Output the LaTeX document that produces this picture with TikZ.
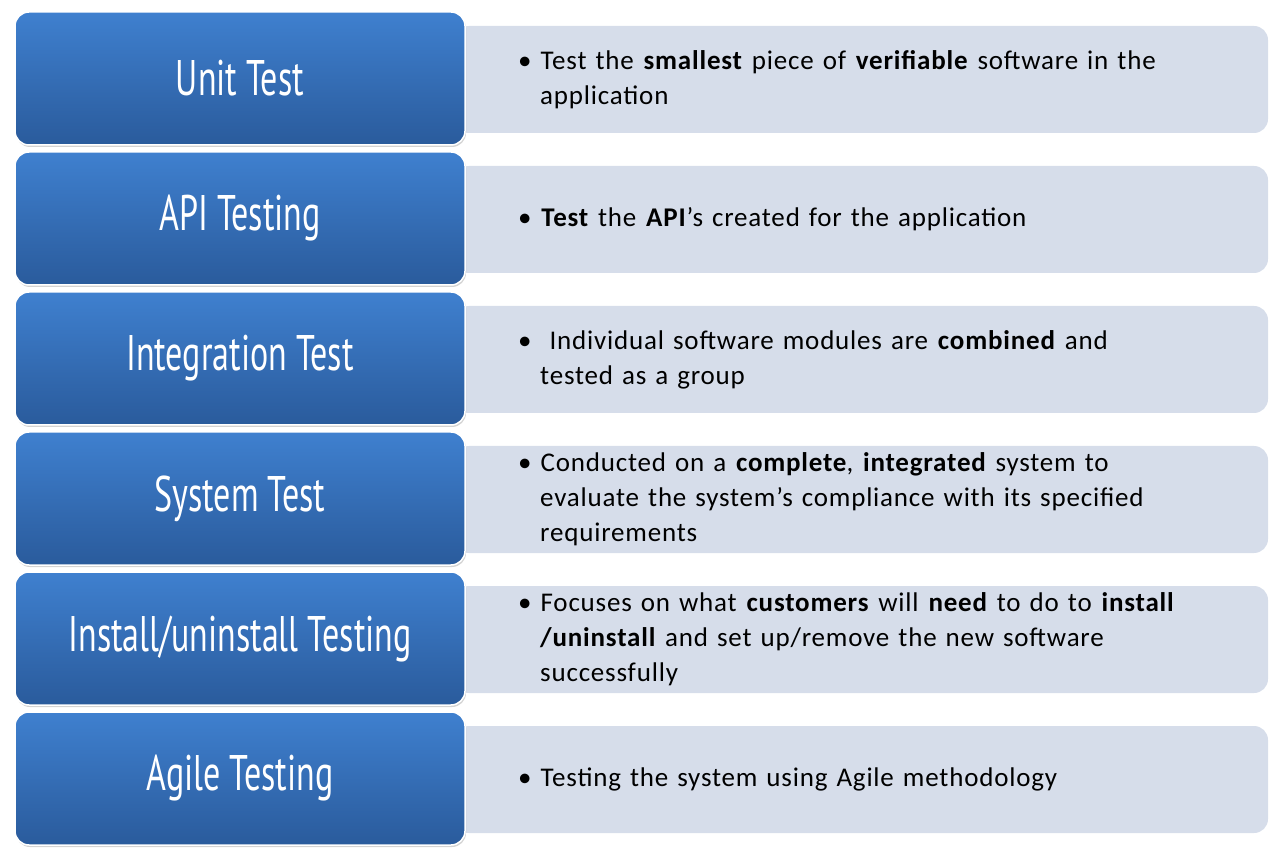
\documentclass[tikz,border=0pt]{standalone}
\usepackage{fontspec}
\setmainfont{Carlito}[LetterSpace=3]
\newfontfamily\titlefont{PT Sans}
\usetikzlibrary{shadows}
\definecolor{lightbox}{HTML}{D6DDEA}
\definecolor{bluetop}{HTML}{3F80CF}
\definecolor{bluebot}{HTML}{2A5B9C}
\tikzset{
 titlebox/.style={rounded corners=14pt, top color=bluetop, bottom color=bluebot, draw=white, line width=1.5pt,
   minimum width=450pt, minimum height=133pt, inner sep=0pt,
   drop shadow={shadow xshift=1pt, shadow yshift=-2pt, opacity=0.35}},
 descbox/.style={rounded corners=14pt, fill=lightbox, minimum width=813pt, minimum height=107pt, inner sep=0pt},
 titletext/.style={text=white, font=\titlefont\fontsize{50}{56}\selectfont},
 desctext/.style={font=\fontsize{27}{35}\selectfont, text width=700pt, align=left, anchor=west, inner sep=0pt}
}
\newcommand{\narrowt}[1]{\scalebox{0.68}[1]{#1}}
\begin{document}
\begin{tikzpicture}[x=1pt,y=-1pt]
\useasboundingbox (0,0) rectangle (1275,858);
\foreach \i/\t/\d in {
 0/{Unit Test}/{\textbullet\ Test the \textbf{smallest} piece of \textbf{verifiable} software in the\\\hspace*{22pt}application},
 1/{API Testing}/{\textbullet\ \textbf{Test} the \textbf{API}’s created for the application},
 2/{Integration Test}/{\textbullet\ \ Individual software modules are \textbf{combined} and\\\hspace*{22pt}tested as a group},
 3/{System Test}/{\textbullet\ Conducted on a \textbf{complete}, \textbf{integrated} system to\\\hspace*{22pt}evaluate the system\symbol{"27}s compliance with its specified\\\hspace*{22pt}requirements},
 4/{Install/uninstall Testing}/{\textbullet\ Focuses on what \textbf{customers} will \textbf{need} to do to \textbf{install}\\\hspace*{22pt}\textbf{/uninstall} and set up/remove the new software\\\hspace*{22pt}successfully},
 5/{Agile Testing}/{\textbullet\ Testing the system using Agile methodology}}
{
 \node[descbox] (d\i) at (861.5, 79.5+140*\i) {};
 \node[titlebox] (b\i) at (240, 78.5+140*\i) {};
 \node[titletext] (t\i) at (b\i.center) {\narrowt{\t}};
 \node[desctext] (x\i) at (518, 79.5+140*\i) {\d};
}
\end{tikzpicture}
\end{document}
